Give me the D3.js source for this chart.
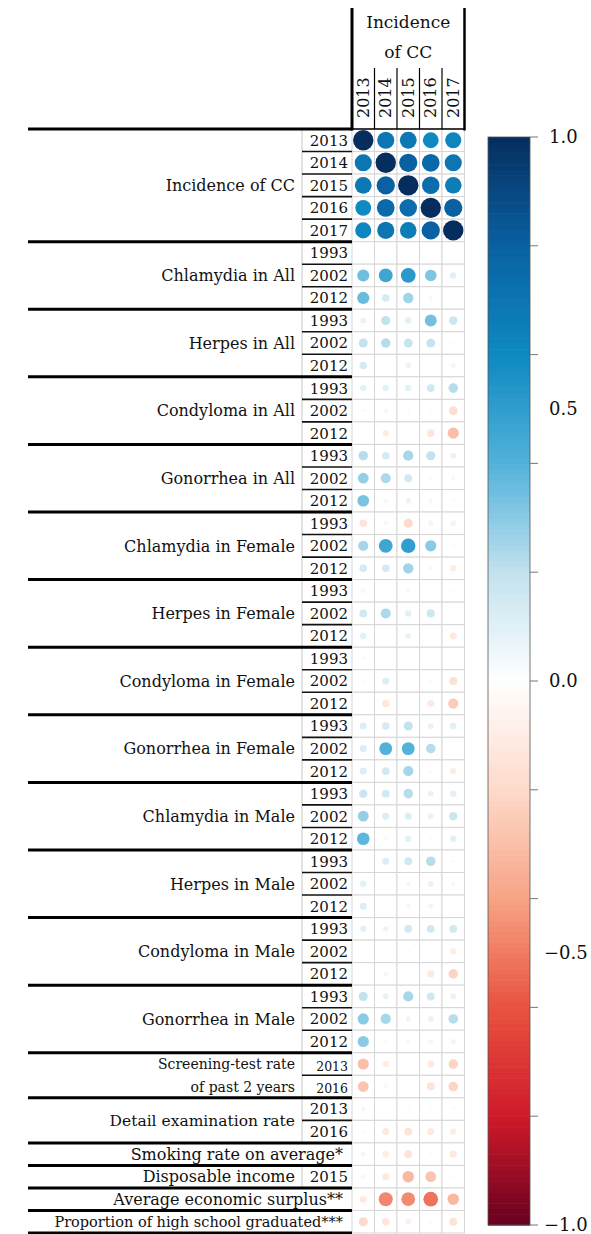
<!DOCTYPE html>
<html lang="en">
  <head>
    <meta charset="UTF-8" />
    <title>Correlation with Incidence of CC</title>
    <script src="https://cdn.jsdelivr.net/npm/d3@7"></script>
    <style>
      body {
        margin: 0;
        background-color: #ffffff;
        font-family: "DejaVu Serif", serif;
      }
      #corr_plot svg {
        display: block;
      }
    </style>
  </head>
  <body>
    <div id="corr_plot"></div>

    <script>
      // columns of the matrix (incidence of CC, by year)
      const columns = ["2013", "2014", "2015", "2016", "2017"];

      const groupNames = [
        "Incidence of CC",
        "Chlamydia in All",
        "Herpes in All",
        "Condyloma in All",
        "Gonorrhea in All",
        "Chlamydia in Female",
        "Herpes in Female",
        "Condyloma in Female",
        "Gonorrhea in Female",
        "Chlamydia in Male",
        "Herpes in Male",
        "Condyloma in Male",
        "Gonorrhea in Male",
        "Screening-test rate\nof past 2 years",
        "Detail examination rate",
        "Smoking rate on average*",
        "Disposable income",
        "Average economic surplus**",
        "Proportion of high school graduated***",
      ];

      const stdYears = ["1993", "2002", "2012"];
      const groupYears = [
        ["2013", "2014", "2015", "2016", "2017"],
        stdYears, stdYears, stdYears, stdYears,
        stdYears, stdYears, stdYears, stdYears,
        stdYears, stdYears, stdYears, stdYears,
        ["2013", "2016"],
        ["2013", "2016"],
        [""],
        ["2015"],
        [""],
        [""],
      ];

      // correlation values
      const incidenceCC = [
        [1.0, 0.7, 0.68, 0.6, 0.62],
        [0.7, 1.0, 0.8, 0.76, 0.7],
        [0.68, 0.8, 1.0, 0.74, 0.66],
        [0.6, 0.76, 0.74, 1.0, 0.8],
        [0.62, 0.7, 0.66, 0.8, 1.0],
      ];
      const chlamydiaAll = [
        [0.01, 0.02, 0.02, 0.0, 0.01],
        [0.35, 0.46, 0.52, 0.32, 0.1],
        [0.36, 0.14, 0.26, 0.04, 0.02],
      ];
      const herpesAll = [
        [0.08, 0.2, 0.1, 0.34, 0.17],
        [0.2, 0.22, 0.19, 0.19, 0.03],
        [0.14, 0.02, 0.07, 0.02, -0.06],
      ];
      const condylomaAll = [
        [0.1, 0.1, 0.1, 0.15, 0.22],
        [0.03, 0.05, 0.03, 0.02, -0.18],
        [0.0, -0.1, 0.0, -0.14, -0.3],
      ];
      const gonorrheaAll = [
        [0.22, 0.14, 0.25, 0.2, 0.08],
        [0.28, 0.24, 0.15, 0.03, 0.04],
        [0.33, 0.05, 0.07, -0.05, 0.03],
      ];
      const chlamydiaFemale = [
        [-0.14, -0.05, -0.2, -0.07, -0.08],
        [0.25, 0.46, 0.5, 0.3, 0.03],
        [0.14, 0.14, 0.26, 0.04, -0.1],
      ];
      const herpesFemale = [
        [-0.05, -0.02, -0.05, -0.02, -0.03],
        [0.15, 0.24, 0.1, 0.16, 0.01],
        [0.1, 0.02, 0.08, -0.02, -0.12],
      ];
      const condylomaFemale = [
        [-0.04, 0.0, 0.0, -0.02, 0.0],
        [-0.03, 0.12, 0.0, -0.03, -0.16],
        [-0.02, -0.13, -0.02, -0.12, -0.25],
      ];
      const gonorrheaFemale = [
        [0.12, 0.14, 0.2, 0.08, 0.1],
        [0.12, 0.4, 0.4, 0.22, 0.02],
        [0.12, 0.15, 0.25, 0.03, -0.1],
      ];
      const chlamydiaMale = [
        [0.17, 0.15, 0.22, 0.08, 0.1],
        [0.28, 0.12, 0.12, 0.08, 0.17],
        [0.38, 0.04, 0.1, 0.02, 0.1],
      ];
      const herpesMale = [
        [0.02, 0.12, 0.15, 0.22, 0.03],
        [0.1, 0.02, 0.05, 0.08, 0.04],
        [0.12, 0.0, 0.05, 0.06, 0.01],
      ];
      const condylomaMale = [
        [0.1, 0.07, 0.15, 0.15, 0.15],
        [0.02, 0.0, 0.03, 0.02, -0.1],
        [0.0, -0.06, 0.02, -0.12, -0.22],
      ];
      const gonorrheaMale = [
        [0.2, 0.08, 0.25, 0.15, 0.08],
        [0.3, 0.25, 0.06, 0.08, 0.22],
        [0.3, 0.03, 0.04, -0.06, 0.06],
      ];
      const screeningRate = [
        [-0.3, -0.1, -0.04, -0.12, -0.22],
        [-0.28, -0.05, -0.02, -0.15, -0.22],
      ];
      const detailExamRate = [
        [0.05, 0.01, -0.03, -0.03, 0.03],
        [-0.03, -0.12, -0.15, -0.12, -0.1],
      ];
      const smokingRate = [[-0.06, -0.1, -0.15, -0.03, -0.12]];
      const disposableIncome = [[-0.05, -0.12, -0.32, -0.28, -0.03]];
      const economicSurplus = [[-0.12, -0.47, -0.46, -0.52, -0.32]];
      const highSchoolGrad = [[-0.2, -0.14, -0.08, -0.04, -0.15]];

      const groupValues = [
        incidenceCC, chlamydiaAll, herpesAll, condylomaAll, gonorrheaAll,
        chlamydiaFemale, herpesFemale, condylomaFemale, gonorrheaFemale,
        chlamydiaMale, herpesMale, condylomaMale, gonorrheaMale,
        screeningRate, detailExamRate, smokingRate, disposableIncome,
        economicSurplus, highSchoolGrad,
      ];

      // colour bar
      const legendLabels = [1.0, 0.5, 0.0, -0.5, -1.0];
      const legendTicks = [1.0, 0.8, 0.6, 0.4, 0.2, 0.0, -0.2, -0.4, -0.6, -0.8, -1.0];

      plotCorr();

      function plotCorr() {
        const width = 591;
        const height = 1234;

        const svg = d3
          .select("#corr_plot")
          .append("svg")
          .attr("width", width)
          .attr("height", height);

        // flatten groups into rows
        const rows = [];
        groupNames.forEach((name, gi) => {
          groupYears[gi].forEach((yr, ri) => {
            rows.push({ id: `${gi}-${ri}`, group: gi, idx: ri, year: yr, values: groupValues[gi][ri] });
          });
        });

        const x = d3.scaleBand().domain(columns).range([352, 464.5]);
        const y = d3.scaleBand().domain(rows.map((d) => d.id)).range([129, 1233]);

        const colorStops = [-1, -0.8, -0.6, -0.4, -0.2, 0, 0.2, 0.4, 0.6, 0.8, 1];
        const color = d3
          .scaleLinear()
          .domain(colorStops)
          .range([
            "#67001F", "#CF1A2A", "#E9523F", "#F7A385", "#FDDACA", "#FFFFFF",
            "#C2E2EF", "#52B2DA", "#0E89C1", "#0961A2", "#052E5F",
          ]);
        const radius = d3.scaleSqrt().domain([0, 1]).range([0, 10.2]);

        // cells
        const cells = rows.flatMap((r) =>
          columns.map((c, ci) => ({ row: r.id, col: c, v: r.values[ci] }))
        );

        svg
          .append("g")
          .selectAll("rect")
          .data(cells)
          .join("rect")
          .attr("x", (d) => x(d.col))
          .attr("y", (d) => y(d.row))
          .attr("width", x.bandwidth())
          .attr("height", y.bandwidth())
          .attr("fill", "#ffffff")
          .attr("stroke", "#d6d6d6")
          .attr("stroke-width", 1);

        svg
          .append("g")
          .selectAll("circle")
          .data(cells)
          .join("circle")
          .attr("cx", (d) => x(d.col) + x.bandwidth() / 2)
          .attr("cy", (d) => y(d.row) + y.bandwidth() / 2)
          .attr("r", (d) => radius(Math.abs(d.v)))
          .attr("fill", (d) => color(d.v));

        // year cells on the left
        const yearLeft = 302;
        const yearRows = rows.filter((r) => r.year !== "");
        const smallYears = new Set([13]);

        svg
          .append("g")
          .selectAll("line")
          .data(yearRows)
          .join("line")
          .attr("x1", yearLeft)
          .attr("x2", yearLeft)
          .attr("y1", (d) => y(d.id))
          .attr("y2", (d) => y(d.id) + y.bandwidth())
          .attr("stroke", "#cfcfcf")
          .attr("stroke-width", 1.2);

        svg
          .append("g")
          .selectAll("line")
          .data(yearRows.filter((r) => r.idx > 0))
          .join("line")
          .attr("x1", yearLeft)
          .attr("x2", 352)
          .attr("y1", (d) => y(d.id))
          .attr("y2", (d) => y(d.id))
          .attr("stroke", "#111")
          .attr("stroke-width", 1.6);

        svg
          .append("g")
          .selectAll("text")
          .data(yearRows)
          .join("text")
          .attr("x", 348)
          .attr("y", (d) => y(d.id) + y.bandwidth() / 2)
          .attr("dy", (d) => (smallYears.has(d.group) ? "0.55em" : "0.36em"))
          .attr("text-anchor", "end")
          .style("font-size", (d) => (smallYears.has(d.group) ? "12.5px" : "15px"))
          .attr("fill", "#111")
          .text((d) => d.year);

        // group labels
        const labelSize = {
          13: 14,
          14: 15.5,
          18: 14.5,
        };
        const groups = groupNames.map((name, gi) => {
          const gr = rows.filter((r) => r.group === gi);
          return {
            gi,
            name,
            top: y(gr[0].id),
            bottom: y(gr[gr.length - 1].id) + y.bandwidth(),
            rows: gr,
            hasYear: gr[0].year !== "",
          };
        });

        const lbl = svg.append("g").attr("fill", "#111");
        groups.forEach((g) => {
          const lines = g.name.split("\n");
          const xEnd = g.hasYear ? 295 : 343;
          const fs = labelSize[g.gi] || 16;
          lines.forEach((t, li) => {
            const cy =
              lines.length > 1
                ? y(g.rows[li].id) + y.bandwidth() / 2
                : (g.top + g.bottom) / 2;
            lbl
              .append("text")
              .attr("x", xEnd)
              .attr("y", cy)
              .attr("dy", "0.36em")
              .attr("text-anchor", "end")
              .style("font-size", fs + "px")
              .text(t);
          });
        });

        // thick group separators
        const seps = groups.map((g) => g.top).concat([y.range()[1]]);
        svg
          .append("g")
          .selectAll("line")
          .data(seps)
          .join("line")
          .attr("x1", 28)
          .attr("x2", 352)
          .attr("y1", (d) => d)
          .attr("y2", (d) => d)
          .attr("stroke", "#000")
          .attr("stroke-width", 3);

        // header box
        const hdr = svg.append("g");
        const gridTop = y.range()[0];
        const xLeft = x.range()[0];
        const xRight = x.range()[1];

        hdr
          .append("line")
          .attr("x1", xLeft)
          .attr("x2", xRight)
          .attr("y1", gridTop)
          .attr("y2", gridTop)
          .attr("stroke", "#000")
          .attr("stroke-width", 1.5);

        hdr
          .selectAll("line.vsep")
          .data(columns.slice(1))
          .join("line")
          .attr("class", "vsep")
          .attr("x1", (d) => x(d))
          .attr("x2", (d) => x(d))
          .attr("y1", 68)
          .attr("y2", gridTop)
          .attr("stroke", "#000")
          .attr("stroke-width", 1.2);

        [xLeft, xRight].forEach((xx, i) => {
          hdr
            .append("line")
            .attr("x1", xx)
            .attr("x2", xx)
            .attr("y1", 8)
            .attr("y2", gridTop + 1.5)
            .attr("stroke", "#000")
            .attr("stroke-width", i === 0 ? 3 : 2.5);
        });

        const hx = (xLeft + xRight) / 2;
        hdr
          .append("text")
          .attr("x", hx)
          .attr("y", 28)
          .attr("text-anchor", "middle")
          .style("font-size", "17px")
          .attr("fill", "#111")
          .text("Incidence");
        hdr
          .append("text")
          .attr("x", hx)
          .attr("y", 58)
          .attr("text-anchor", "middle")
          .style("font-size", "17px")
          .attr("fill", "#111")
          .text("of CC");

        hdr
          .selectAll("text.colyear")
          .data(columns)
          .join("text")
          .attr("class", "colyear")
          .attr(
            "transform",
            (d) => `translate(${x(d) + x.bandwidth() / 2 + 5.5},118) rotate(-90)`
          )
          .style("font-size", "16px")
          .attr("fill", "#111")
          .text((d) => d);

        // colour bar
        const barY = d3.scaleLinear().domain([-1, 1]).range([1225, 137]);
        const barX = 488;
        const barW = 42;
        const steps = d3.range(-1, 1, 0.01);

        svg
          .append("g")
          .selectAll("rect")
          .data(steps)
          .join("rect")
          .attr("x", barX)
          .attr("y", (d) => barY(d + 0.01))
          .attr("width", barW)
          .attr("height", barY(-1) - barY(-0.99) + 0.6)
          .attr("fill", (d) => color(d + 0.005));

        svg
          .append("rect")
          .attr("x", barX)
          .attr("y", barY(1))
          .attr("width", barW)
          .attr("height", barY(-1) - barY(1))
          .attr("fill", "none")
          .attr("stroke", "#555")
          .attr("stroke-width", 0.8);

        svg
          .append("g")
          .selectAll("line")
          .data(legendTicks)
          .join("line")
          .attr("x1", barX + barW)
          .attr("x2", barX + barW + 8)
          .attr("y1", (d) => barY(d))
          .attr("y2", (d) => barY(d))
          .attr("stroke", "#777")
          .attr("stroke-width", 1);

        svg
          .append("g")
          .selectAll("text")
          .data(legendLabels)
          .join("text")
          .attr("x", (d) => (d < 0 ? 544 : 549))
          .attr("y", (d) => barY(d))
          .attr("dy", "0.36em")
          .style("font-size", "18px")
          .attr("fill", "#111")
          .text((d) => d3.format(".1f")(d));
      }
    </script>
  </body>
</html>
